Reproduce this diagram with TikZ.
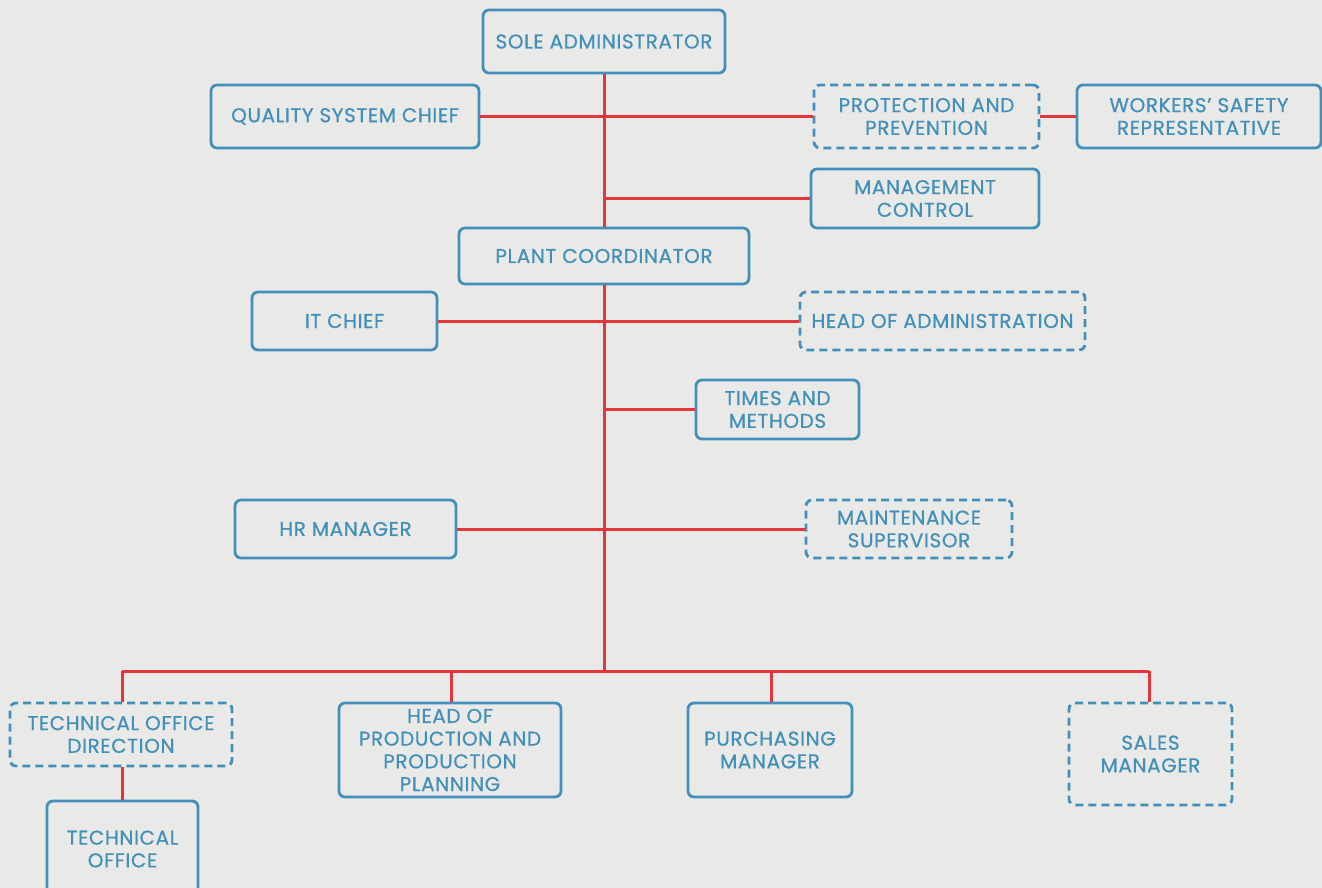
\documentclass[tikz,border=0pt]{standalone}
\usepackage{fontspec}
\setmainfont{Poppins}[LetterSpace=3,FakeBold=0.7]
\definecolor{bg}{HTML}{E9E9E7}
\definecolor{boxblue}{HTML}{4290BA}
\definecolor{linered}{HTML}{E4353B}
\begin{document}
\begin{tikzpicture}[x=1pt,y=-1pt,
  orgbox/.style={draw=boxblue,line width=2.8pt,rounded corners=6pt,text=boxblue,
    align=center,inner sep=0pt,font=\fontsize{20}{22.7}\selectfont},
  dashbox/.style={orgbox,dash pattern=on 8pt off 5pt},
  link/.style={draw=linered,line width=3pt}]
\useasboundingbox (0,0) rectangle (1322,888);
\fill[bg] (0,0) rectangle (1322,888);
\clip (0,0) rectangle (1322,888);
% nodes
\node[orgbox,minimum width=242pt,minimum height=63pt] (sole) at (604,41.5) {SOLE ADMINISTRATOR};
\node[orgbox,minimum width=268pt,minimum height=63pt] (qsc) at (345,116.5) {QUALITY SYSTEM CHIEF};
\node[dashbox,minimum width=225pt,minimum height=63pt] (prot) at (926.5,116.5) {PROTECTION AND\\PREVENTION};
\node[orgbox,minimum width=244pt,minimum height=63pt] (wsr) at (1199,116.5) {WORKERS’ SAFETY\\REPRESENTATIVE};
\node[orgbox,minimum width=228pt,minimum height=59pt] (mgmt) at (925,198.5) {MANAGEMENT\\CONTROL};
\node[orgbox,minimum width=290pt,minimum height=56pt] (plant) at (604,256) {PLANT COORDINATOR};
\node[orgbox,minimum width=185pt,minimum height=58pt] (it) at (344.5,321) {IT CHIEF};
\node[dashbox,minimum width=285pt,minimum height=58pt] (hadm) at (942.5,321) {HEAD OF ADMINISTRATION};
\node[orgbox,minimum width=163pt,minimum height=59pt] (times) at (777.5,409.5) {TIMES AND\\METHODS};
\node[orgbox,minimum width=221pt,minimum height=58pt] (hr) at (345.5,529) {HR MANAGER};
\node[dashbox,minimum width=206pt,minimum height=58pt] (maint) at (909,529) {MAINTENANCE\\SUPERVISOR};
\node[dashbox,minimum width=222pt,minimum height=63pt] (tod) at (121,734.5) {TECHNICAL OFFICE\\DIRECTION};
\node[orgbox,minimum width=222pt,minimum height=94pt] (hpp) at (450,750) {HEAD OF\\PRODUCTION AND\\PRODUCTION\\PLANNING};
\node[orgbox,minimum width=164pt,minimum height=94pt] (purch) at (770,750) {PURCHASING\\MANAGER};
\node[dashbox,minimum width=163pt,minimum height=102pt] (sales) at (1150.5,754) {SALES\\MANAGER};
\node[orgbox,minimum width=151pt,minimum height=96pt] (tech) at (122.5,849) {TECHNICAL\\OFFICE};
% helper coordinates
\coordinate (bus) at (604,671);
\coordinate (busL) at (122,671);
\coordinate (busR) at (1149,671);
% connectors
\draw[link] (sole.south) -- (plant.north);
\draw[link] (plant.south) -- (bus);
\draw[link] (qsc.east) -- (prot.west);
\draw[link] (prot.east) -- (wsr.west);
\draw[link] (mgmt.west) -- (mgmt.west -| sole.south);
\draw[link] (it.east) -- (hadm.west);
\draw[link] (times.west) -- (times.west -| plant.south);
\draw[link] (hr.east) -- (maint.west);
\draw[link] (busL) -- (busR);
\draw[link] (busL) -- (busL |- tod.north);
\draw[link] (451,671) -- (451,0 |- hpp.north);
\draw[link] (771,671) -- (771,0 |- purch.north);
\draw[link] (busR) -- (busR |- sales.north);
\draw[link] (tod.south -| busL) -- (tech.north -| busL);
\end{tikzpicture}
\end{document}
